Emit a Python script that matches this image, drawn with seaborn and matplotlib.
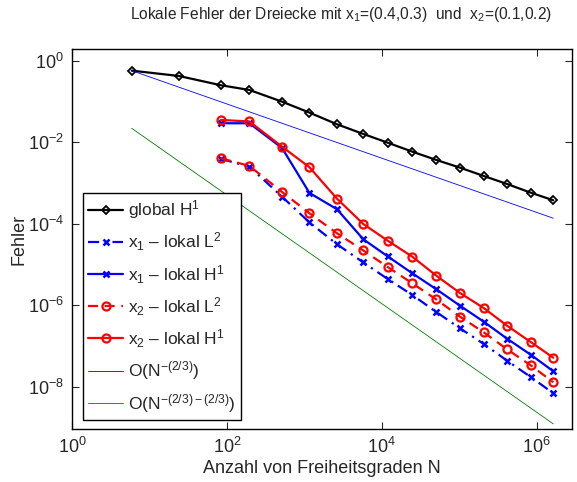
import matplotlib
matplotlib.use("Agg")
import matplotlib.pyplot as plt
import seaborn as sns
import pandas as pd
from matplotlib.ticker import FixedLocator, LogFormatterSciNotation, NullLocator

# ---------------- data ----------------
N = [5.9, 24, 84, 195, 515, 1165, 2640, 5770, 11900, 24760, 50550,
     102300, 207000, 414000, 837000, 1.64e6]
global_H1 = [0.569, 0.421, 0.249, 0.191, 0.0986, 0.053, 0.0275, 0.0159,
             0.00972, 0.00585, 0.00366, 0.00237, 0.00148, 0.000943,
             0.000576, 0.000375]
N_local = N[2:]
x1_L2 = [3.87e-3, 2.51e-3, 4.60e-4, 1.07e-4, 3.12e-5, 1.12e-5, 4.40e-6,
         1.78e-6, 6.81e-7, 2.71e-7, 1.12e-7, 4.35e-8, 1.73e-8, 6.89e-9]
x1_H1 = [0.0291, 0.0291, 7.21e-3, 5.67e-4, 2.26e-4, 4.14e-5, 1.58e-5,
         6.07e-6, 2.46e-6, 9.72e-7, 3.94e-7, 1.51e-7, 6.10e-8, 2.39e-8]
x2_L2 = [4.03e-3, 2.61e-3, 6.00e-4, 1.80e-4, 5.81e-5, 2.20e-5, 8.65e-6,
         3.44e-6, 1.38e-6, 5.22e-7, 2.16e-7, 8.28e-8, 3.35e-8, 1.28e-8]
x2_H1 = [0.0351, 0.0322, 7.76e-3, 2.42e-3, 4.10e-4, 9.82e-5, 3.83e-5,
         1.55e-5, 5.30e-6, 1.99e-6, 8.53e-7, 3.14e-7, 1.25e-7, 5.14e-8]
N_ref = [N[0], N[-1]]
ref_23 = [0.569, 1.36e-4]
ref_43 = [0.0219, 1.22e-9]

labels = ["global H$^\\mathregular{1}$",
          "x$_\\mathregular{1}$ \u2013 lokal L$^\\mathregular{2}$",
          "x$_\\mathregular{1}$ \u2013 lokal H$^\\mathregular{1}$",
          "x$_\\mathregular{2}$ \u2013 lokal L$^\\mathregular{2}$",
          "x$_\\mathregular{2}$ \u2013 lokal H$^\\mathregular{1}$",
          "O(N$^\\mathregular{-(2/3)}$)",
          "O(N$^\\mathregular{-(2/3)-(2/3)}$)"]
title = ("Lokale Fehler der Dreiecke mit x$_\\mathregular{1}$=(0.4,0.3)  und  "
         "x$_\\mathregular{2}$=(0.1,0.2)")

# ---------------- style ----------------
sns.set_style("ticks")
plt.rcParams["font.family"] = ["Liberation Sans", "DejaVu Sans"]
plt.rcParams["mathtext.fontset"] = "custom"
plt.rcParams["mathtext.rm"] = "Liberation Sans"
plt.rcParams["mathtext.it"] = "Liberation Sans:italic"
plt.rcParams["mathtext.bf"] = "Liberation Sans:bold"

fig = plt.figure(figsize=(5.77, 4.82), dpi=100)
ax = fig.add_axes([72 / 577, 1 - 428.7 / 482, 500 / 577, 379.4 / 482])
ax.set_xscale("log")
ax.set_yscale("log")

series = [
    (N, global_H1, dict(color="black", marker="D", markersize=4.5,
                        markerfacecolor="none", markeredgecolor="black",
                        markeredgewidth=1.3, linestyle="-", linewidth=1.6)),
    (N_local, x1_L2, dict(color="blue", marker="x", markersize=4.5,
                          markeredgecolor="blue", markeredgewidth=1.8,
                          linestyle=(0, (5, 2.5, 1, 2.5)), linewidth=1.6)),
    (N_local, x1_H1, dict(color="blue", marker="x", markersize=4.5,
                          markeredgecolor="blue", markeredgewidth=1.8,
                          linestyle="-", linewidth=1.6)),
    (N_local, x2_L2, dict(color="red", marker="o", markersize=5.8,
                          markerfacecolor="none", markeredgecolor="red",
                          markeredgewidth=1.6, linestyle=(0, (4.5, 3)),
                          linewidth=1.6)),
    (N_local, x2_H1, dict(color="red", marker="o", markersize=5.8,
                          markerfacecolor="none", markeredgecolor="red",
                          markeredgewidth=1.6, linestyle="-", linewidth=1.6)),
    (N_ref, ref_23, dict(color="blue", marker="None", linestyle="-",
                         linewidth=0.6)),
    (N_ref, ref_43, dict(color=(0, 0.5, 0), marker="None", linestyle="-",
                         linewidth=0.6)),
]
handles = []
for (xs, ys, kw), lab in zip(series, labels):
    df = pd.DataFrame({"N": xs, "err": ys})
    n_before = len(ax.lines)
    sns.lineplot(data=df, x="N", y="err", ax=ax, estimator=None, sort=False,
                 color=kw["color"], label=lab)
    line = ax.lines[n_before]
    line.set(**kw)
    handles.append(line)

ax.set_xlim(1, 2.86e6)
ax.set_ylim(9.3e-10, 1.9)
ax.xaxis.set_major_locator(FixedLocator([1, 1e2, 1e4, 1e6]))
ax.yaxis.set_major_locator(FixedLocator([1e-8, 1e-6, 1e-4, 1e-2, 1]))
ax.xaxis.set_major_formatter(LogFormatterSciNotation())
ax.yaxis.set_major_formatter(LogFormatterSciNotation())
ax.xaxis.set_minor_locator(NullLocator())
ax.yaxis.set_minor_locator(NullLocator())
ax.tick_params(which="both", direction="in", top=True, right=True,
               length=5, width=0.8, labelsize=13, pad=6)
for s in ax.spines.values():
    s.set_linewidth(1.0)
    s.set_color("black")
    s.set_visible(True)

ax.set_xlabel("Anzahl von Freiheitsgraden N", fontsize=13, labelpad=2)
ax.set_ylabel("Fehler", fontsize=13, labelpad=0)
fig.text(341 / 577, 1 - 15 / 482, title, ha="center", va="center",
         fontsize=11.2)

leg = ax.legend(handles, labels, loc="lower left",
                bbox_to_anchor=(0.022, 0.023), borderaxespad=0,
                fontsize=12.5, frameon=True, fancybox=False, framealpha=1,
                edgecolor="black", handlelength=2.0, handletextpad=0.3,
                labelspacing=0.55, borderpad=0.3, numpoints=1)
leg.get_frame().set_linewidth(1.0)

fig.savefig("out.png", dpi=100)
